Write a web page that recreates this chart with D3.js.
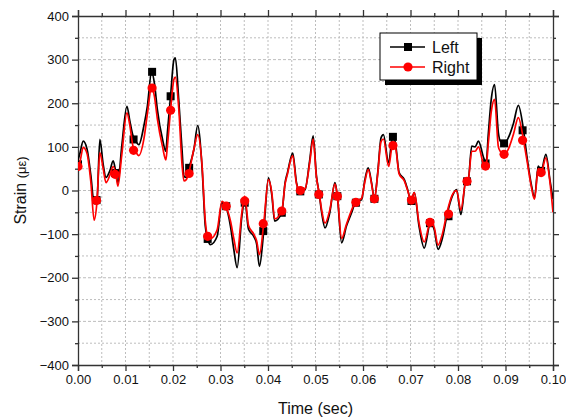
<!DOCTYPE html>
<html><head><meta charset="utf-8">
<script src="https://cdn.jsdelivr.net/npm/d3@7/dist/d3.min.js"></script>
<style>body{margin:0;background:#fff}svg{display:block}text{font-family:"Liberation Sans",Arial,sans-serif}</style>
</head><body><svg id="c" width="566" height="420"></svg>
<script>
const times = [0,0.0004,0.0011,0.0019,0.0027,0.0034,0.0040,0.0046,0.0053,0.0059,0.0067,0.0074,0.0080,0.0084,0.0092,0.0103,0.0109,0.0116,0.0120,0.0128,0.0139,0.0146,0.0155,0.0161,0.0167,0.0178,0.0185,0.0188,0.0195,0.0202,0.0205,0.0212,0.0219,0.0223,0.0228,0.0233,0.0244,0.0252,0.0261,0.0268,0.0273,0.0279,0.0293,0.0303,0.0311,0.0321,0.0328,0.0335,0.0345,0.0351,0.0359,0.0370,0.0376,0.0382,0.0391,0.0401,0.0408,0.0414,0.0429,0.0436,0.0441,0.0452,0.0460,0.0467,0.0478,0.0488,0.0495,0.0502,0.0508,0.0513,0.0520,0.0530,0.0541,0.0546,0.0555,0.0565,0.0576,0.0584,0.0597,0.0604,0.0611,0.0618,0.0624,0.0631,0.0638,0.0643,0.0654,0.0662,0.0668,0.0676,0.0687,0.0694,0.0701,0.0708,0.0718,0.0729,0.0742,0.0750,0.0758,0.0767,0.0778,0.0788,0.0797,0.0806,0.0817,0.0821,0.0829,0.0836,0.0843,0.0854,0.0859,0.0864,0.0870,0.0877,0.0885,0.0889,0.0898,0.0906,0.0917,0.0927,0.0938,0.0945,0.0955,0.0961,0.0969,0.0975,0.0985,0.0994,0.1000];
const leftValues = [70,85,113,95,35,-30,-22,117,60,30,45,68,40,18,100,193,160,125,117,105,150,193,272,245,186,117,90,130,218,300,304,209,94,33,30,50,94,149,56,-82,-111,-124,-105,-28,-36,-82,-135,-177,-59,-22,-89,-105,-122,-174,-93,29,-10,-70,-51,18,41,86,18,-2,2,71,125,33,-9,-51,-86,-51,18,-13,-120,-82,-51,-28,-21,25,52,18,-19,41,121,128,63,123,110,41,25,2,-24,-5,-82,-132,-74,-90,-135,-110,-51,-13,2,-55,25,20,102,100,113,75,62,132,209,243,132,113,108,121,155,195,138,79,10,-17,56,45,83,21,-20];
const rightValues = [55,65,99,85,20,-68,-25,87,50,18,35,55,35,10,80,178,150,100,92,80,120,175,237,215,165,100,70,100,186,255,260,190,60,22,25,40,95,128,60,-70,-105,-110,-90,-25,-36,-70,-110,-143,-50,-13,-80,-100,-115,-147,-76,25,-5,-65,-47,15,38,80,15,0,4,65,118,30,-8,-45,-75,-45,15,-12,-110,-78,-45,-26,-18,20,48,15,-19,38,112,118,55,103,100,38,22,0,-22,-5,-75,-118,-72,-85,-125,-100,-45,-10,0,-45,22,21,90,90,100,60,56,110,180,209,100,90,83,95,130,167,115,70,5,-20,50,41,75,15,-50];
const markerTimes = [0,0.0039,0.0078,0.0117,0.0156,0.0195,0.0234,0.0273,0.0312,0.0351,0.0390,0.0429,0.0468,0.0507,0.0546,0.0585,0.0624,0.0663,0.0702,0.0741,0.0780,0.0819,0.0858,0.0897,0.0936,0.0975];
const leftMarkers = [60,-22,40,117,272,216,52,-111,-36,-28,-93,-51,-2,-9,-13,-28,-19,123,-24,-75,-59,21,62,108,138,45];
const rightMarkers = [55,-23,37,92,235,184,39,-105,-36,-24,-76,-47,0,-9,-13,-27,-19,103,-22,-73,-54,21,56,83,115,41];
const xTicks = [0,0.01,0.02,0.03,0.04,0.05,0.06,0.07,0.08,0.09,0.10];
const yTicks = [-400,-300,-200,-100,0,100,200,300,400];
const seriesNames = ["Left","Right"];

const svg = d3.select("#c");
const L = 78, R = 553, T = 16, B = 365;
const x = d3.scaleLinear().domain([0,0.1]).range([L,R]);
const y = d3.scaleLinear().domain([-400,400]).range([B,T]);

// grid
const g = svg.append("g");
const xg = d3.range(0,21).map(i=>i*0.005);
const yg = d3.range(-8,9).map(i=>i*50);
g.selectAll(".vx").data(xg.slice(1,-1)).join("line").attr("x1",d=>x(d)).attr("x2",d=>x(d)).attr("y1",T).attr("y2",B)
  .attr("stroke","#bdbdbd").attr("stroke-width",1).attr("stroke-dasharray","2,2");
g.selectAll(".hy").data(yg.slice(1,-1)).join("line").attr("y1",d=>y(d)).attr("y2",d=>y(d)).attr("x1",L).attr("x2",R)
  .attr("stroke","#bdbdbd").attr("stroke-width",1).attr("stroke-dasharray",d=>d%100===0?"3,2":"2,2");

// axes
const fmtX = d3.format(".2f");
const axB = d3.axisBottom(x).tickValues(xTicks).tickFormat(fmtX).tickSize(6).tickPadding(4);
const axT = d3.axisTop(x).tickValues(xTicks).tickFormat("").tickSize(6);
const axLf = d3.axisLeft(y).tickValues(yTicks).tickFormat(d3.format("d")).tickSize(6).tickPadding(3);
const axRt = d3.axisRight(y).tickValues(yTicks).tickFormat("").tickSize(6);
const minX = d3.range(0,10).map(i=>i*0.01+0.005);
const minY = d3.range(-4,4).map(i=>i*100+50);
function styleAxis(sel){sel.select(".domain").attr("stroke","#333").attr("stroke-width",1.3);
  sel.selectAll(".tick line").attr("stroke","#333").attr("stroke-width",1.3);
  sel.selectAll("text").attr("fill","#111").style("font-size","13px").style("font-family","Liberation Sans, Arial, sans-serif");}
svg.append("g").attr("transform",`translate(0,${B})`).call(axB).call(styleAxis);
svg.append("g").attr("transform",`translate(0,${T})`).call(axT).call(styleAxis);
svg.append("g").attr("transform",`translate(${L},0)`).call(axLf).call(styleAxis);
svg.append("g").attr("transform",`translate(${R},0)`).call(axRt).call(styleAxis);
svg.append("g").attr("transform",`translate(0,${B})`).call(d3.axisBottom(x).tickValues(minX).tickFormat("").tickSize(3)).call(styleAxis).select(".domain").remove();
svg.append("g").attr("transform",`translate(0,${T})`).call(d3.axisTop(x).tickValues(minX).tickFormat("").tickSize(3)).call(styleAxis).select(".domain").remove();
svg.append("g").attr("transform",`translate(${L},0)`).call(d3.axisLeft(y).tickValues(minY).tickFormat("").tickSize(3)).call(styleAxis).select(".domain").remove();
svg.append("g").attr("transform",`translate(${R},0)`).call(d3.axisRight(y).tickValues(minY).tickFormat("").tickSize(3)).call(styleAxis).select(".domain").remove();

// data
const line = d3.line().curve(d3.curveMonotoneX).x(d=>x(d[0])).y(d=>y(d[1]));
const clip = svg.append("clipPath").attr("id","pc").append("rect").attr("x",L).attr("y",T).attr("width",R-L).attr("height",B-T);
const plot = svg.append("g").attr("clip-path","url(#pc)");
plot.append("path").datum(times.map((t,i)=>[t,leftValues[i]])).attr("d",line).attr("fill","none").attr("stroke","#000").attr("stroke-width",1.7).attr("stroke-linejoin","round");
plot.selectAll(".sq").data(markerTimes.map((t,i)=>[t,leftMarkers[i]])).join("rect")
  .attr("x",d=>x(d[0])-4).attr("y",d=>y(d[1])-4).attr("width",8).attr("height",8).attr("fill","#000");
plot.append("path").datum(times.map((t,i)=>[t,rightValues[i]])).attr("d",line).attr("fill","none").attr("stroke","#ff0000").attr("stroke-width",1.7).attr("stroke-linejoin","round");
plot.selectAll(".ci").data(markerTimes.map((t,i)=>[t,rightMarkers[i]])).join("circle")
  .attr("cx",d=>x(d[0])).attr("cy",d=>y(d[1])).attr("r",4.6).attr("fill","#ff0000");

// axis titles
svg.append("text").attr("x",(L+R)/2).attr("y",414).attr("text-anchor","middle").style("font-size","16px").attr("fill","#111").text("Time (sec)");
const yt = svg.append("text").attr("transform",`translate(26,${(T+B)/2}) rotate(-90)`).attr("text-anchor","middle").style("font-size","16px").attr("fill","#111");
yt.append("tspan").text("Strain ");
yt.append("tspan").style("font-size","13px").text("(\u03bc\u03b5)");

// legend
const lg = svg.append("g");
lg.append("rect").attr("x",385).attr("y",38).attr("width",97).attr("height",47).attr("fill","#000");
lg.append("rect").attr("x",380).attr("y",33).attr("width",97).attr("height",47).attr("fill","#fff").attr("stroke","#000").attr("stroke-width",1);
const lc = ["#000","#ff0000"];
seriesNames.forEach((n,i)=>{
  const yy = 47 + i*20;
  lg.append("line").attr("x1",390).attr("x2",425).attr("y1",yy).attr("y2",yy).attr("stroke",lc[i]).attr("stroke-width",1.3);
  if(i===0) lg.append("rect").attr("x",404).attr("y",yy-4).attr("width",8).attr("height",8).attr("fill","#000");
  else lg.append("circle").attr("cx",408).attr("cy",yy).attr("r",4.6).attr("fill","#ff0000");
  lg.append("text").attr("x",432).attr("y",yy+6).style("font-size","16px").attr("fill","#111").text(n);
});
</script></body></html>
